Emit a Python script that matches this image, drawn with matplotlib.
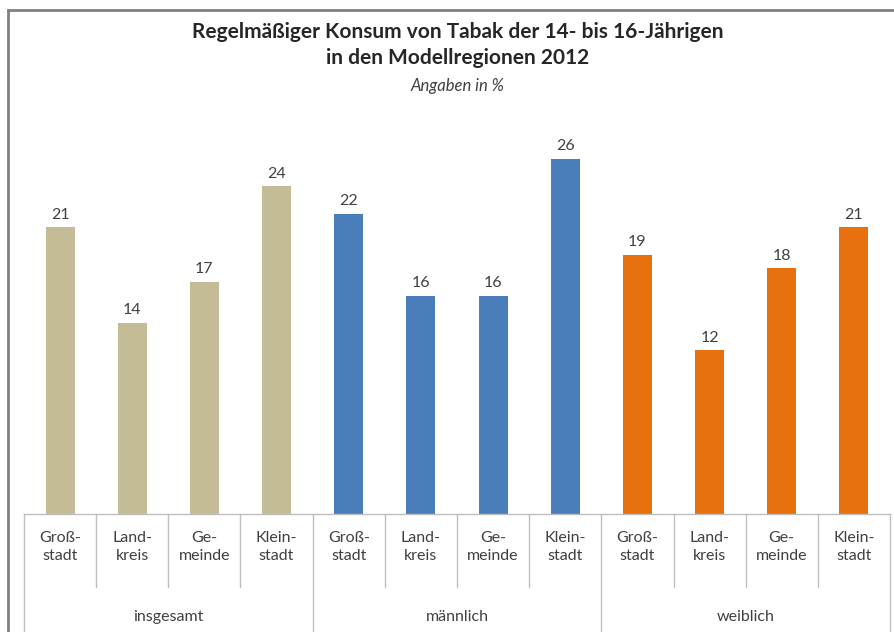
import matplotlib
matplotlib.use("Agg")
import matplotlib.pyplot as plt
from matplotlib.patches import Rectangle

plt.rcParams['font.family'] = ['Lato', 'DejaVu Sans']

groups = ["insgesamt", "männlich", "weiblich"]
regions = ["Groß-\nstadt", "Land-\nkreis", "Ge-\nmeinde", "Klein-\nstadt"]
insgesamt = [21, 14, 17, 24]
maennlich = [22, 16, 16, 26]
weiblich = [19, 12, 18, 21]
colors = ["#C4BC96", "#4A7EBB", "#E8700E"]

W, H = 895, 632
fig = plt.figure(figsize=(W / 100, H / 100), dpi=100)

# outer frame
fig.patches.append(Rectangle((8 / W, -0.05), 1.1, 1 - 10 / H + 0.05,
                             transform=fig.transFigure, fill=False,
                             edgecolor="#808080", linewidth=2.0, clip_on=False))

left, right, base, top = 24, 890, 514, 120
ax = fig.add_axes([left / W, (H - base) / H, (right - left) / W, (base - top) / H])
px_per_unit = 355 / 26
ax.set_ylim(0, (base - top) / px_per_unit)
ax.set_xlim(-0.5, 11.5)
for s in ax.spines.values():
    s.set_visible(False)
ax.set_xticks([])
ax.set_yticks([])

text_col = "#404040"
series = [insgesamt, maennlich, weiblich]
for g, (vals, col) in enumerate(zip(series, colors)):
    xs = [g * 4 + i for i in range(len(vals))]
    ax.bar(xs, vals, width=0.40, color=col, zorder=2)
    for x, v in zip(xs, vals):
        ax.annotate(f"{v}", (x, v), xytext=(0, 4), textcoords="offset points",
                    ha="center", va="bottom", fontsize=11.5, color=text_col)
    for x, lab in zip(xs, regions):
        ax.text(x, -0.084, lab, transform=ax.get_xaxis_transform(),
                ha="center", va="center", fontsize=11.5, color=text_col,
                linespacing=1.4)
    ax.text(g * 4 + 1.5, -0.262, groups[g], transform=ax.get_xaxis_transform(),
            ha="center", va="center", fontsize=11.5, color=text_col)

trans = ax.get_xaxis_transform()
line_col = "#BFBFBF"
ax.plot([-0.5, 11.5], [0, 0], transform=trans, color=line_col, lw=1.0,
        clip_on=False, zorder=3)
for k in range(13):
    xk = k - 0.5
    y_end = -0.32 if k % 4 == 0 else -0.185
    ax.plot([xk, xk], [0, y_end], transform=trans, color=line_col, lw=1.0,
            clip_on=False)

cx = 457.5 / W
fig.text(cx, 1 - 32 / H, "Regelmäßiger Konsum von Tabak der 14- bis 16-Jährigen",
         ha="center", va="center", fontsize=15, fontweight="bold", color="#262626")
fig.text(cx, 1 - 58 / H, "in den Modellregionen 2012",
         ha="center", va="center", fontsize=15, fontweight="bold", color="#262626")
fig.text(cx, 1 - 86 / H, "Angaben in %", ha="center", va="center",
         fontsize=12, style="italic", color=text_col)

fig.savefig("out.png", dpi=100, facecolor="white")
